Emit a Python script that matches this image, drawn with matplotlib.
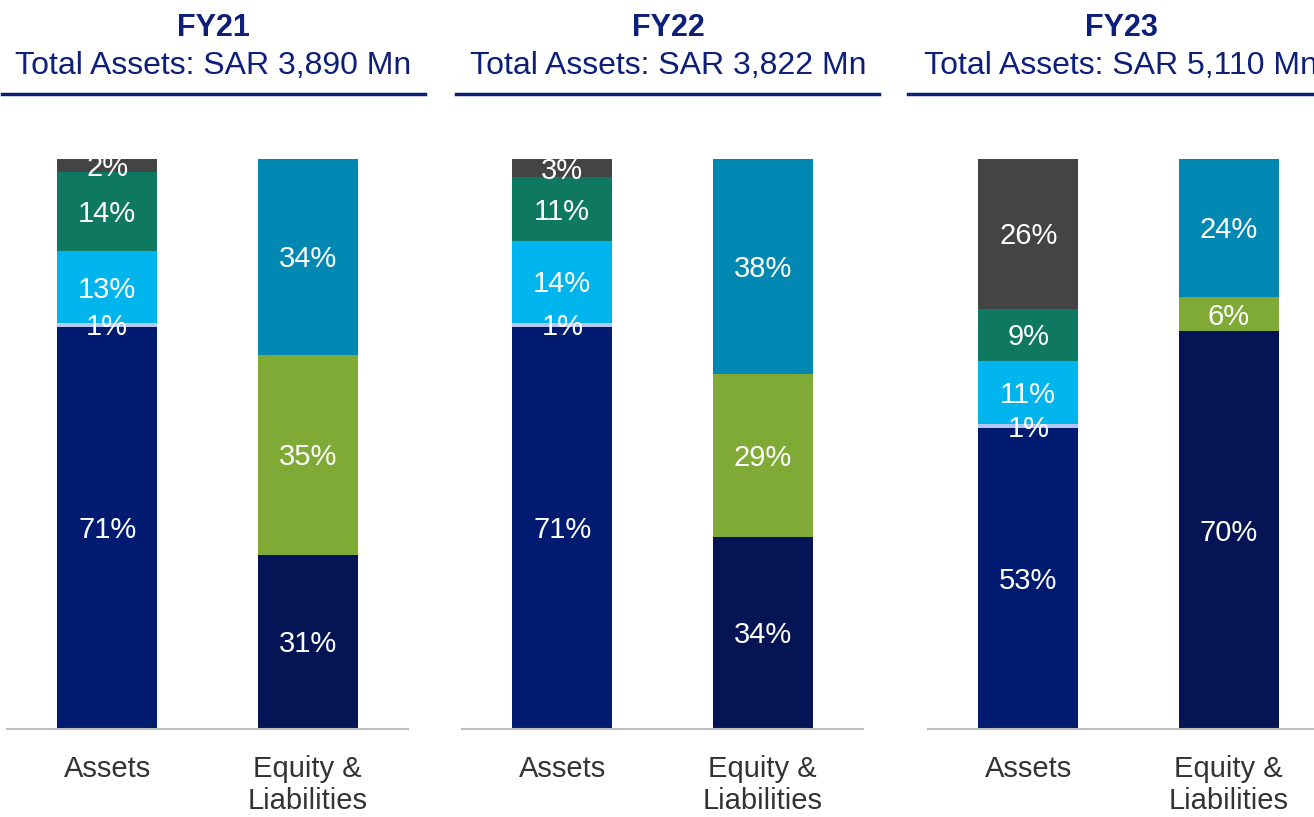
import matplotlib.pyplot as plt
from matplotlib.lines import Line2D

plt.rcParams['font.family'] = ['Liberation Sans', 'DejaVu Sans']

years = ['FY21', 'FY22', 'FY23']
total_assets = ['3,890', '3,822', '5,110']
categories = ['Assets', 'Equity &\nLiabilities']

# asset segments, bottom to top (share of total, %)
assets_a = [70.6, 70.6, 52.8]
assets_b = [0.6, 0.7, 0.7]
assets_c = [12.6, 14.3, 11.1]
assets_d = [14.0, 11.2, 9.1]
assets_e = [2.2, 3.2, 26.3]

# equity & liabilities segments, bottom to top (%)
eqliab_a = [30.6, 33.7, 69.8]
eqliab_b = [35.1, 28.6, 6.0]
eqliab_c = [34.3, 37.7, 24.2]

asset_colors = ['#001B70', '#B4C6F2', '#00B5EE', '#0E7861', '#444444']
eqliab_colors = ['#041455', '#7EAA35', '#0088B3']
navy = '#0D1F78'

W, H = 1314, 817
fig = plt.figure(figsize=(W / 100, H / 100), dpi=100)

ax_left = [7, 462, 928]
title_x = [213, 668, 1121]
line_x = [(2, 425), (456, 879), (908, 1331)]
lbl_size = 21

for i, yr in enumerate(years):
    ax = fig.add_axes([ax_left[i] / W, (H - 729) / H, 401 / W, 570 / H])
    segs = [
        ([assets_a[i], assets_b[i], assets_c[i], assets_d[i], assets_e[i]], asset_colors),
        ([eqliab_a[i], eqliab_b[i], eqliab_c[i]], eqliab_colors),
    ]
    for x, (vals, cols) in enumerate(segs):
        bottom = 0
        for v, c in zip(vals, cols):
            ax.bar(x, v, 0.5, bottom=bottom, color=c, linewidth=0)
            # centre the digits (cap height) on the segment
            ax.annotate(f'{v:.0f}%', (x, bottom + v / 2), xytext=(0, -0.36 * lbl_size),
                        textcoords='offset points', ha='center', va='baseline',
                        color='white', fontsize=lbl_size)
            bottom += v

    ax.set_xlim(-0.5, 1.5)
    ax.set_ylim(0, 100)
    ax.set_yticks([])
    ax.set_xticks([0, 1])
    ax.set_xticklabels(categories, fontsize=21, color='#333333', linespacing=1.16)
    ax.tick_params(axis='x', length=0, pad=19)
    for s in ['top', 'right', 'left']:
        ax.spines[s].set_visible(False)
    ax.spines['bottom'].set_color('#BFBFBF')
    ax.spines['bottom'].set_linewidth(1.5)

    fig.text(title_x[i] / W, (H - 36) / H, yr, ha='center', va='baseline',
             fontsize=22, fontweight='bold', color=navy)
    fig.text(title_x[i] / W, (H - 74) / H, f'Total Assets: SAR {total_assets[i]} Mn',
             ha='center', va='baseline', fontsize=23, color=navy)
    x0, x1 = line_x[i]
    fig.add_artist(Line2D([x0 / W, x1 / W], [(H - 94) / H] * 2, color=navy, linewidth=2.5))

fig.savefig('out.png', dpi=100)
